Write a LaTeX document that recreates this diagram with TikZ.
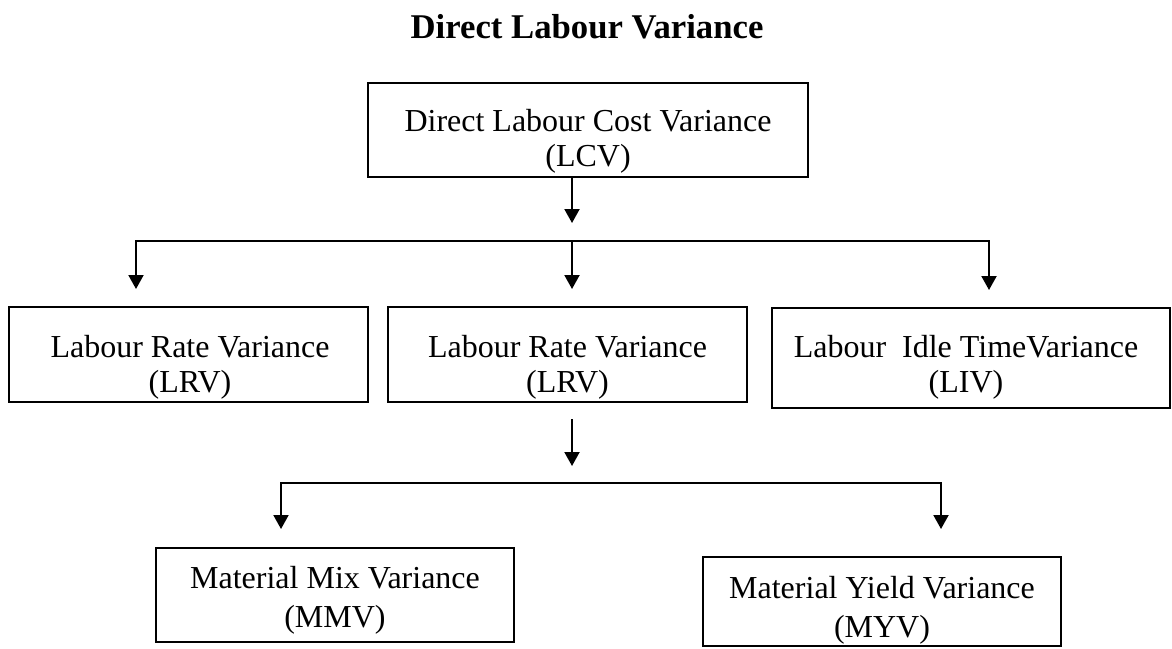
\documentclass[tikz,border=0pt]{standalone}
\usepackage{fontspec}
\setmainfont{Liberation Serif}
\usetikzlibrary{arrows.meta}
\begin{document}
\begin{tikzpicture}[x=1pt,y=-1pt,
  box/.style={draw=black,line width=2pt,inner sep=0pt},
  txt/.style={inner sep=0pt,align=center,anchor=north,font=\fontsize{32}{35}\selectfont},
  txtlow/.style={txt,font=\fontsize{32}{39}\selectfont},
  arr/.style={line width=2pt,-{Triangle[width=15pt,length=14pt]}},
  link/.style={line width=2pt}]
\useasboundingbox (0,0) rectangle (1172,648);

% heading
\node[font=\fontsize{34.7}{40}\selectfont\bfseries,anchor=base,inner sep=0pt] (title) at (587,38) {Direct Labour Variance};

% boxes
\node[box,minimum width=440pt,minimum height=94pt] (lcv) at (588,130) {};
\node[box,minimum width=359pt,minimum height=95pt] (lrvA) at (188.5,354.5) {};
\node[box,minimum width=359pt,minimum height=95pt] (lrvB) at (567.5,354.5) {};
\node[box,minimum width=398pt,minimum height=100pt] (liv) at (971,358) {};
\node[box,minimum width=358pt,minimum height=94pt] (mmv) at (335,595) {};
\node[box,minimum width=358pt,minimum height=89pt] (myv) at (882,601.5) {};

% box texts
\node[txt] (lcvt) at (588,109.3) {Direct Labour Cost Variance\\(LCV)};
\node[txt] (lrvAt) at (190,335.3) {Labour Rate Variance\\(LRV)};
\node[txt] (lrvBt) at (567.5,335.3) {Labour Rate Variance\\(LRV)};
\node[txt] (livt) at (966,335.3) {Labour\ \ Idle TimeVariance\\(LIV)};
\node[txtlow] (mmvt) at (335,566.3) {Material Mix Variance\\(MMV)};
\node[txtlow] (myvt) at (882,576.3) {Material Yield Variance\\(MYV)};

% first level of branching
\coordinate (h1l) at (136,241);
\coordinate (h1m) at (572,241);
\coordinate (h1r) at (989,241);
\draw[arr] (lcv.south -| h1m) -- ([yshift=18pt]h1m);
\draw[arr] (h1m) -- (h1l) -- ([yshift=17pt]lrvA.north -| h1l);
\draw[arr] (h1m) -- (h1r) -- ([yshift=17pt]liv.north -| h1r);
\draw[arr] (h1m) -- ([yshift=17pt]lrvB.north -| h1m);

% second level of branching
\coordinate (h2l) at (281,483);
\coordinate (h2m) at (572,483);
\coordinate (h2r) at (941,483);
\draw[arr] ([yshift=-16pt]lrvB.south -| h2m) -- ([yshift=17pt]h2m);
\draw[arr] (h2m) -- (h2l) -- ([yshift=18pt]mmv.north -| h2l);
\draw[arr] (h2m) -- (h2r) -- ([yshift=27pt]myv.north -| h2r);
\end{tikzpicture}
\end{document}
